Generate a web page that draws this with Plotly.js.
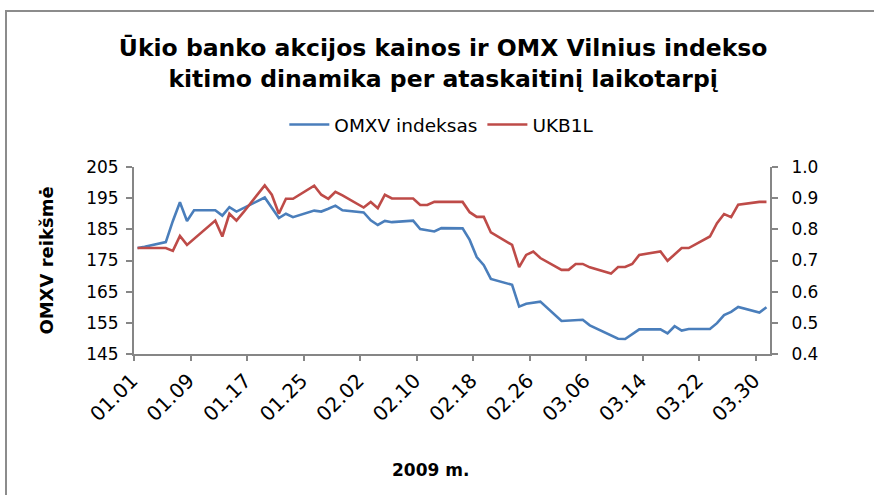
<!DOCTYPE html>
<html>
<head>
<meta charset="utf-8">
<script src="https://cdn.plot.ly/plotly-3.0.1.min.js"></script>
<style>
  html, body { margin: 0; padding: 0; background: #ffffff; overflow: hidden; }
  #frame { position: absolute; left: 5px; top: 10px; width: 900px; height: 520px; border: 2px solid #8c8c8c; box-sizing: border-box; }
  #chart { position: absolute; left: 0; top: 0; width: 874px; height: 495px; }
</style>
</head>
<body>
<div id="frame"></div>
<div id="chart"></div>
<script>
// Trading dates (2009)
const dates = [
  "2009-01-01","2009-01-02","2009-01-05","2009-01-06","2009-01-07","2009-01-08","2009-01-09",
  "2009-01-12","2009-01-13","2009-01-14","2009-01-15","2009-01-16",
  "2009-01-19","2009-01-20","2009-01-21","2009-01-22","2009-01-23",
  "2009-01-26","2009-01-27","2009-01-28","2009-01-29","2009-01-30",
  "2009-02-02","2009-02-03","2009-02-04","2009-02-05","2009-02-06",
  "2009-02-09","2009-02-10","2009-02-11","2009-02-12","2009-02-13",
  "2009-02-16","2009-02-17","2009-02-18","2009-02-19","2009-02-20",
  "2009-02-23","2009-02-24","2009-02-25","2009-02-26","2009-02-27",
  "2009-03-02","2009-03-03","2009-03-04","2009-03-05","2009-03-06",
  "2009-03-09","2009-03-10","2009-03-11","2009-03-12","2009-03-13",
  "2009-03-16","2009-03-17","2009-03-18","2009-03-19","2009-03-20",
  "2009-03-23","2009-03-24","2009-03-25","2009-03-26","2009-03-27",
  "2009-03-30","2009-03-31"
];

// OMXV index (left axis)
const omxv = [
  179.0, 179.4, 180.9, 187.7, 193.7, 187.7, 191.1,
  191.1, 189.4, 192.1, 190.7, 191.8,
  195.2, 191.9, 188.6, 190.0, 188.9,
  191.0, 190.7, 191.6, 192.6, 191.1,
  190.4, 187.9, 186.4, 187.7, 187.3,
  187.8, 185.1, 184.7, 184.3, 185.4,
  185.3, 181.6, 176.1, 173.5, 169.1,
  167.2, 160.2, 161.1, 161.5, 161.8,
  155.6, 155.8, 156.0, 156.0, 154.2,
  151.1, 149.9, 149.8, 151.3, 152.9,
  152.9, 151.6, 153.9, 152.5, 153.0,
  153.0, 154.9, 157.5, 158.5, 160.1,
  158.3, 160.0
];

// UKB1L share price (right axis)
const ukb1l = [
  0.740, 0.740, 0.740, 0.731, 0.779, 0.750, 0.769,
  0.828, 0.777, 0.850, 0.828, 0.855,
  0.941, 0.911, 0.850, 0.898, 0.898,
  0.940, 0.911, 0.898, 0.920, 0.909,
  0.870, 0.888, 0.868, 0.911, 0.899,
  0.899, 0.878, 0.878, 0.888, 0.888,
  0.888, 0.855, 0.840, 0.840, 0.790,
  0.750, 0.679, 0.718, 0.729, 0.708,
  0.670, 0.670, 0.689, 0.689, 0.678,
  0.658, 0.679, 0.679, 0.689, 0.718,
  0.729, 0.699, 0.720, 0.740, 0.740,
  0.777, 0.820, 0.849, 0.839, 0.879,
  0.888, 0.888
];

// X tick labels
const tickDates = ["2009-01-01","2009-01-09","2009-01-17","2009-01-25","2009-02-02","2009-02-10",
                   "2009-02-18","2009-02-26","2009-03-06","2009-03-14","2009-03-22","2009-03-30"];
const tickLabels = ["01.01","01.09","01.17","01.25","02.02","02.10","02.18","02.26","03.06","03.14","03.22","03.30"];

const leftTicks = [145, 155, 165, 175, 185, 195, 205];
const rightTicks = [0.4, 0.5, 0.6, 0.7, 0.8, 0.9, 1.0];
const rightTickText = ["0.4","0.5","0.6","0.7","0.8","0.9","1.0"];

// Excel date axis: each point centred in its day slot
const xs = dates.map(d => d + " 12:00");

const FONT = "DejaVu Sans, Verdana, sans-serif";
const AXIS_COLOR = "#868686";

const traces = [
  { x: xs, y: omxv, name: "OMXV indeksas", type: "scatter", mode: "lines",
    line: { color: "#4A7EBB", width: 2.6 }, yaxis: "y" },
  { x: xs, y: ukb1l, name: "UKB1L", type: "scatter", mode: "lines",
    line: { color: "#BE4B48", width: 2.6 }, yaxis: "y2" }
];

const layout = {
  width: 874, height: 495,
  margin: { l: 134, r: 104, t: 167, b: 141 },
  paper_bgcolor: "rgba(0,0,0,0)",
  plot_bgcolor: "rgba(0,0,0,0)",
  font: { family: FONT, color: "#000000", size: 16 },
  title: {
    text: "<b>Ūkio banko akcijos kainos ir OMX Vilnius indekso<br>kitimo dinamika per ataskaitinį laikotarpį</b>",
    font: { family: FONT, size: 23.5, color: "#000000" },
    x: 0.507, xref: "container", xanchor: "center",
    y: 1 - 56 / 495, yref: "container", yanchor: "middle"
  },
  showlegend: true,
  legend: {
    orientation: "h", x: 0.484, xanchor: "center", xref: "paper",
    y: (354 - 125) / 187, yanchor: "middle",
    font: { family: FONT, size: 18.5, color: "#000000" },
    itemwidth: 40, tracegroupgap: 0
  },
  annotations: [
    { text: "<b>2009 m.</b>", xref: "paper", yref: "paper",
      x: (430 - 134) / 636, y: (354 - 470) / 187, xanchor: "center", yanchor: "middle",
      showarrow: false, font: { family: FONT, size: 17, color: "#000000" } }
  ],
  xaxis: {
    type: "date",
    range: ["2009-01-01", "2009-04-01"],
    tickmode: "array", tickvals: tickDates, ticktext: tickLabels,
    tickangle: -45,
    tickfont: { family: FONT, size: 20, color: "#000000" },
    ticklabelshift: -2,
    showgrid: false, zeroline: false,
    showline: true, linecolor: AXIS_COLOR, linewidth: 2,
    ticks: "outside", ticklen: 5, tickwidth: 2, tickcolor: AXIS_COLOR,
    automargin: false
  },
  yaxis: {
    range: [145, 205],
    tickmode: "array", tickvals: leftTicks,
    tickfont: { family: FONT, size: 17, color: "#000000" },
    showgrid: false, zeroline: false,
    showline: true, linecolor: AXIS_COLOR, linewidth: 2,
    ticks: "outside", ticklen: 6, tickwidth: 2, tickcolor: AXIS_COLOR,
    ticklabelstandoff: 4,
    title: { text: "<b>OMXV reikšmė</b>", font: { family: FONT, size: 18, color: "#000000" }, standoff: 28 },
    automargin: false
  },
  yaxis2: {
    range: [0.4, 1.0], overlaying: "y", side: "right",
    tickmode: "array", tickvals: rightTicks, ticktext: rightTickText,
    tickfont: { family: FONT, size: 17, color: "#000000" },
    showgrid: false, zeroline: false,
    showline: true, linecolor: AXIS_COLOR, linewidth: 2,
    ticks: "outside", ticklen: 6, tickwidth: 2, tickcolor: AXIS_COLOR,
    ticklabelstandoff: 10,
    automargin: false
  }
};

Plotly.newPlot("chart", traces, layout, { displayModeBar: false, staticPlot: true });
</script>
</body>
</html>
